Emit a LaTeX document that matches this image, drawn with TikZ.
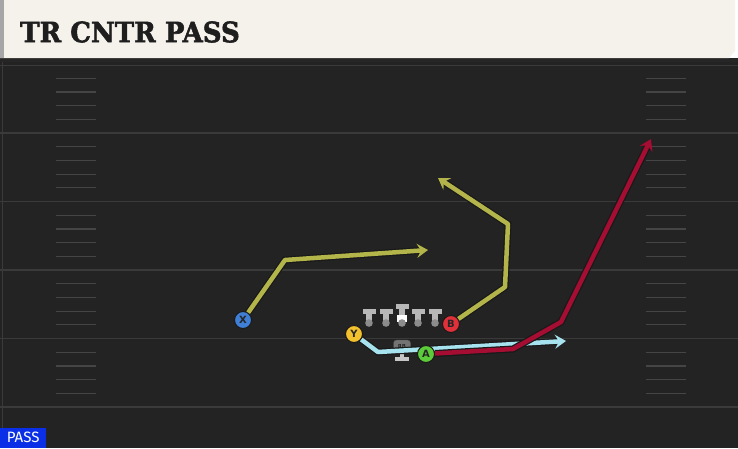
\documentclass[tikz,border=0pt]{standalone}
\usepackage{fontspec}
\usepackage{xcolor}
\usetikzlibrary{arrows.meta}
\setsansfont{DejaVu Sans}
\newfontfamily\titlefont{DejaVu Serif}[BoldFeatures={FakeBold=2}]
\newfontfamily\tagfont{Fira Sans}

\definecolor{fieldbg}{HTML}{232323}
\definecolor{yardline}{HTML}{3A3A3A}
\definecolor{hashline}{HTML}{454545}
\definecolor{titlebg}{HTML}{F5F2EB}
\definecolor{titleink}{HTML}{1E1E1E}
\definecolor{olive}{HTML}{B3B54A}
\definecolor{crimson}{HTML}{A50E32}
\definecolor{skyblue}{HTML}{A6E3EF}
\definecolor{xblue}{HTML}{3F7FD6}
\definecolor{yyellow}{HTML}{F2C12E}
\definecolor{agreen}{HTML}{5CCB3A}
\definecolor{bred}{HTML}{E0303A}
\definecolor{passblue}{HTML}{0B2FE6}
\definecolor{linegrey}{HTML}{B8B8B8}

\tikzset{
  player/.style={circle, draw=black!90, line width=1pt, minimum size=17pt, inner sep=0pt,
    font=\sffamily\bfseries\fontsize{10}{10}\selectfont, text=black!85},
  route/.style={line width=4.5pt, line join=round,
    preaction={draw=black!90, line width=7pt}},
  tip/.style={-{Stealth[length=11pt, width=14pt, inset=4pt]}},
}

\begin{document}
\begin{tikzpicture}[x=1pt, y=-1pt]
    \useasboundingbox (0,0) rectangle (738,448);

    % field
    \fill[fieldbg] (0,58) rectangle (738,448);
    \fill[black!85] (0,58) rectangle (738,62);
    \draw[yardline, line width=1pt] (0,65) -- (738,65);
    \draw[yardline, line width=1.5pt] (0,133) -- (738,133);
    \draw[yardline, line width=1.5pt] (0,201.5) -- (738,201.5);
    \draw[yardline, line width=1.5pt] (0,270) -- (738,270);
    \draw[yardline, line width=1.5pt] (0,338.5) -- (738,338.5);
    \draw[yardline, line width=1.5pt] (0,407) -- (738,407);
    \draw[yardline, line width=1pt] (2,62) -- (2,448);
    \foreach \yd in {64.5,133,201.5,270,338.5} {
      \foreach \k in {1,2,3,4} {
        \draw[hashline, line width=1.2pt] (56,\yd+13.7*\k) -- (96,\yd+13.7*\k);
        \draw[hashline, line width=1.2pt] (646,\yd+13.7*\k) -- (686,\yd+13.7*\k);
      }
    }

    % title bar
    \fill[titlebg] (0,0) -- (735,0) -- (735,51) -- (729,58) -- (0,58) -- cycle;
    \fill[black!35] (0,0) rectangle (4,58);
    \node[anchor=west, text=titleink, inner sep=0pt] (title) at (20,32)
      {\scalebox{0.93}[1]{\titlefont\bfseries\fontsize{28}{28}\selectfont TR CNTR PASS}};

    % linemen
    \foreach \lx in {369,386,418,435} {
      \fill[linegrey] (\lx-6.5,309) rectangle (\lx+6.5,313.5);
      \fill[linegrey] (\lx-3,313.5) rectangle (\lx+3,323);
      \fill[black!45] (\lx,323) circle (3.8pt);
    }
    \fill[linegrey] (395.5,304) rectangle (408.5,308.5);
    \fill[linegrey] (399,308.5) rectangle (405,323);
    \fill[white] (397,315) rectangle (407,322);
    \fill[black!45] (402,323) circle (3.8pt);

    % running back
    \fill[linegrey!80] (400,352) rectangle (404,358);
    \fill[linegrey!80] (395,357) rectangle (409,360.5);
    \node[fill=black!55, draw=black!70, rounded corners=3pt, minimum width=17pt, minimum height=12pt,
      inner sep=0pt, font=\sffamily\fontsize{5.5}{5.5}\selectfont, text=black] (rb) at (402,346) {RB};

    % players
    \node[player, fill=xblue] (x) at (243,320) {X};
    \node[player, fill=yyellow] (y) at (354,334) {Y};
    \node[player, fill=agreen] (a) at (426,354) {A};
    \node[player, fill=bred] (b) at (451,324) {B};

    % route points
    \coordinate (xbend) at (285,260);
    \coordinate (xend) at (428,250);
    \coordinate (bbend1) at (505,287);
    \coordinate (bbend2) at (508,224);
    \coordinate (bend) at (438,178);
    \coordinate (ybend) at (378,352);
    \coordinate (yend) at (566,341);
    \coordinate (abend1) at (513,349);
    \coordinate (abend2) at (561,322);
    \coordinate (aend) at (651,139);

    % routes
    \draw[route, tip, skyblue] (y) -- (ybend) -- (yend);
    \draw[route, tip, crimson] (a) -- (abend1) -- (abend2) -- (aend);
    \draw[route, tip, olive] (x) -- (xbend) -- (xend);
    \draw[route, tip, olive] (b) -- (bbend1) -- (bbend2) -- (bend);
    \node[player, fill=agreen] at (a) {A};
    \node[player, fill=yyellow] at (y) {Y};

    % play type tag
    \node[fill=passblue, anchor=south west, minimum width=46pt, minimum height=20pt, inner sep=0pt,
      text=white, font=\tagfont\fontsize{15}{15}\selectfont] (tag) at (0,448) {PASS};
\end{tikzpicture}
\end{document}
